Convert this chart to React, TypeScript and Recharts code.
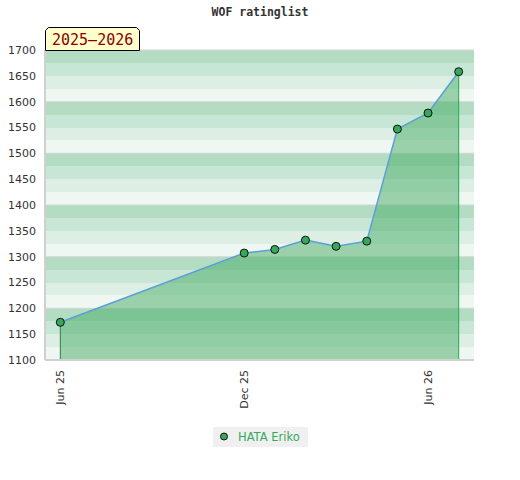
import { ComposedChart, Area, XAxis, YAxis, CartesianGrid, ReferenceLine } from 'recharts';

// month index from Jun 2025
const months = [0, 6, 7, 8, 9, 10, 11, 12, 13];
const ratings = [1173, 1307, 1314, 1332, 1320, 1330, 1547, 1578, 1658];

const xTicks = [0, 6, 12];
const xTickLabels = ['Jun 25', 'Dec 25', 'Jun 26'];

const bandTicks = [1100, 1125, 1150, 1175, 1200, 1225, 1250, 1275, 1300, 1325, 1350, 1375, 1400, 1425, 1450, 1475, 1500, 1525, 1550, 1575, 1600, 1625, 1650, 1675, 1700];
const minorTicks = [
  1100, 1110, 1120, 1130, 1140, 1150, 1160, 1170, 1180, 1190, 1200, 1210, 1220, 1230, 1240, 1250, 1260, 1270, 1280, 1290,
  1300, 1310, 1320, 1330, 1340, 1350, 1360, 1370, 1380, 1390, 1400, 1410, 1420, 1430, 1440, 1450, 1460, 1470, 1480, 1490,
  1500, 1510, 1520, 1530, 1540, 1550, 1560, 1570, 1580, 1590, 1600, 1610, 1620, 1630, 1640, 1650, 1660, 1670, 1680, 1690, 1700,
];
const gridLines = [1100, 1200, 1300, 1400, 1500, 1600, 1700];

const TITLE = 'WOF ratinglist';
const SEASON = '2025–2026';
const PLAYER = 'HATA Eriko';

const data = months.map((m, i) => ({ month: m, rating: ratings[i] }));

const BANDS = ['#b3dcc3', '#c8e6d5', '#ddefe4', '#eef7f1'];
const GREEN = '#36a85a';
const TICK_FONT = { fontFamily: 'DejaVu Sans', fontSize: 11, fill: '#333' };

const LeftTick = ({ x, y, payload }: any) =>
  payload.value % 50 === 0 ? (
    <text x={x - 9} y={y} dy="0.35em" textAnchor="end" {...TICK_FONT}>
      {payload.value}
    </text>
  ) : null;

const RightTick = ({ x, y, payload }: any) => (
  <g>
    <line x1={x - 3} x2={x + 1} y1={y} y2={y} stroke="#222" strokeWidth={1} />
    {payload.value % 50 === 0 && (
      <text x={x + 8} y={y} dy="0.35em" textAnchor="start" {...TICK_FONT}>
        {payload.value}
      </text>
    )}
  </g>
);

const BottomTick = ({ x, y, payload }: any) => (
  <text
    x={x}
    y={y + 10}
    dy="0.35em"
    textAnchor="end"
    transform={`rotate(-90 ${x} ${y + 10})`}
    {...TICK_FONT}
  >
    {xTickLabels[xTicks.indexOf(payload.value)]}
  </text>
);

// grid lines every 100, placed through the axis scale
const gridCoords = ({ yAxis }: any) => {
  const s = yAxis?.scale;
  if (typeof s === 'function') return gridLines.map((v) => s(v));
  if (s && typeof s.map === 'function') return gridLines.map((v) => s.map(v));
  return [];
};

export default function App() {
  const last = data.length - 1;
  return (
    <div style={{ position: 'absolute', left: 0, top: 0, width: 520, height: 480, background: '#fff' }}>
      <div
        style={{
          position: 'absolute',
          top: 5,
          width: 520,
          textAlign: 'center',
          fontFamily: 'DejaVu Sans Mono',
          fontWeight: 'bold',
          fontSize: 11.5,
          color: '#333',
        }}
      >
        {TITLE}
      </div>
      <ComposedChart width={520} height={480} data={data} margin={{ top: 50, right: 0, bottom: 60, left: 5 }}>
        <CartesianGrid yAxisId="left" vertical={false} stroke="none" horizontalFill={BANDS} fillOpacity={1} />
        <CartesianGrid
          yAxisId="left"
          vertical={false}
          stroke="#d6d6d6"
          strokeWidth={1}
          syncWithTicks={false}
          horizontalCoordinatesGenerator={gridCoords}
        />
        <XAxis
          dataKey="month"
          type="number"
          domain={[-0.5, 13.5]}
          ticks={xTicks}
          tick={<BottomTick />}
          tickSize={0}
          tickMargin={0}
          height={60}
          axisLine={{ stroke: '#d0d0d0', strokeWidth: 2 }}
          tickLine={false}
        />
        <YAxis
          yAxisId="left"
          domain={[1100, 1700]}
          ticks={bandTicks}
          interval={0}
          tick={<LeftTick />}
          tickSize={0}
          tickMargin={0}
          width={40}
          axisLine={{ stroke: '#d0d0d0', strokeWidth: 2 }}
          tickLine={false}
        />
        <YAxis
          yAxisId="right"
          orientation="right"
          domain={[1100, 1700]}
          ticks={minorTicks}
          interval={0}
          tick={<RightTick />}
          tickSize={0}
          tickMargin={0}
          width={46}
          axisLine={false}
          tickLine={false}
        />
        <Area
          yAxisId="left"
          type="linear"
          dataKey="rating"
          stroke="#5b9fd8"
          strokeWidth={1.5}
          fill="#46ab65"
          fillOpacity={0.5}
          dot={{ r: 4, fill: GREEN, fillOpacity: 1, stroke: '#111', strokeWidth: 1 }}
          activeDot={false}
          isAnimationActive={false}
        />
        <ReferenceLine
          yAxisId="left"
          segment={[
            { x: months[0], y: 1100 },
            { x: months[0], y: ratings[0] },
          ]}
          stroke="#2e7d4a"
          strokeWidth={1}
        />
        <ReferenceLine
          yAxisId="left"
          segment={[
            { x: months[last], y: 1100 },
            { x: months[last], y: ratings[last] },
          ]}
          stroke="#22b04a"
          strokeWidth={1}
        />
      </ComposedChart>
      <svg style={{ position: 'absolute', left: 0, top: 0 }} width={520} height={60}>
        <polygon points="45.5,50.5 45.5,30.5 48.5,27.5 136.5,27.5 139.5,30.5 139.5,50.5" fill="#ffffcc" stroke="#000" strokeWidth={1} />
        <text x={52} y={45} fontFamily="DejaVu Sans Mono" fontSize={15} fill="#8b0000">
          {SEASON}
        </text>
      </svg>
      <div
        style={{
          position: 'absolute',
          left: 213,
          top: 427,
          width: 95,
          height: 20,
          background: '#f0f0f0',
          display: 'flex',
          alignItems: 'center',
          fontFamily: 'DejaVu Sans',
          fontSize: 11.5,
          color: GREEN,
        }}
      >
        <svg width={25} height={20}>
          <circle cx={11} cy={9.5} r={3.5} fill={GREEN} stroke="#111" strokeWidth={1} />
        </svg>
        <span>{PLAYER}</span>
      </div>
    </div>
  );
}
